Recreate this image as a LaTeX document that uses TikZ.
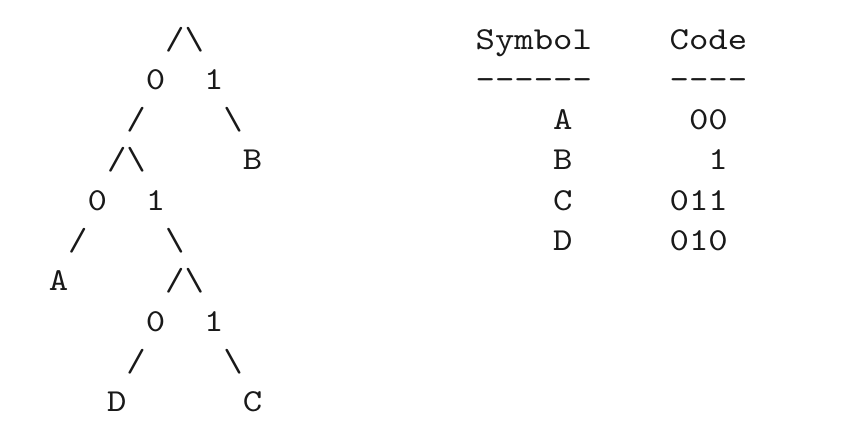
\documentclass[tikz,border=0pt]{standalone}
\usepackage{fontspec}
\newfontfamily\asciimono[FakeStretch=1.155]{lmmono10-regular.otf}
\tikzset{
  tt/.style={font=\asciimono\fontsize{32}{40}\selectfont, inner sep=0pt, outer sep=0pt, anchor=base west, text=black!90}
}
\newcommand{\tok}[4]{\node[tt] (#1) at ({10+#2*19.4}, {-(49+#3*40.33)}) {#4};}
\begin{document}
\begin{tikzpicture}[x=1pt,y=1pt]
\useasboundingbox (0,0) rectangle (843,-434);
% tree
\tok{r0a}{8}{0}{/\textbackslash}
\tok{r1a}{7}{1}{0}
\tok{r1b}{10}{1}{1}
\tok{r2a}{6}{2}{/}
\tok{r2b}{11}{2}{\textbackslash}
\tok{r3a}{5}{3}{/\textbackslash}
\tok{r3b}{12}{3}{B}
\tok{r4a}{4}{4}{0}
\tok{r4b}{7}{4}{1}
\tok{r5a}{3}{5}{/}
\tok{r5b}{8}{5}{\textbackslash}
\tok{r6a}{2}{6}{A}
\tok{r6b}{8}{6}{/\textbackslash}
\tok{r7a}{7}{7}{0}
\tok{r7b}{10}{7}{1}
\tok{r8a}{6}{8}{/}
\tok{r8b}{11}{8}{\textbackslash}
\tok{r9a}{5}{9}{D}
\tok{r9b}{12}{9}{C}
% table
\tok{hsym}{24}{0}{Symbol}
\tok{hcode}{34}{0}{Code}
\tok{dsym}{24}{1}{------}
\tok{dcode}{34}{1}{----}
\tok{sa}{28}{2}{A}
\tok{ca}{35}{2}{00}
\tok{sb}{28}{3}{B}
\tok{cb}{36}{3}{1}
\tok{sc}{28}{4}{C}
\tok{cc}{34}{4}{011}
\tok{sd}{28}{5}{D}
\tok{cd}{34}{5}{010}
\end{tikzpicture}
\end{document}
